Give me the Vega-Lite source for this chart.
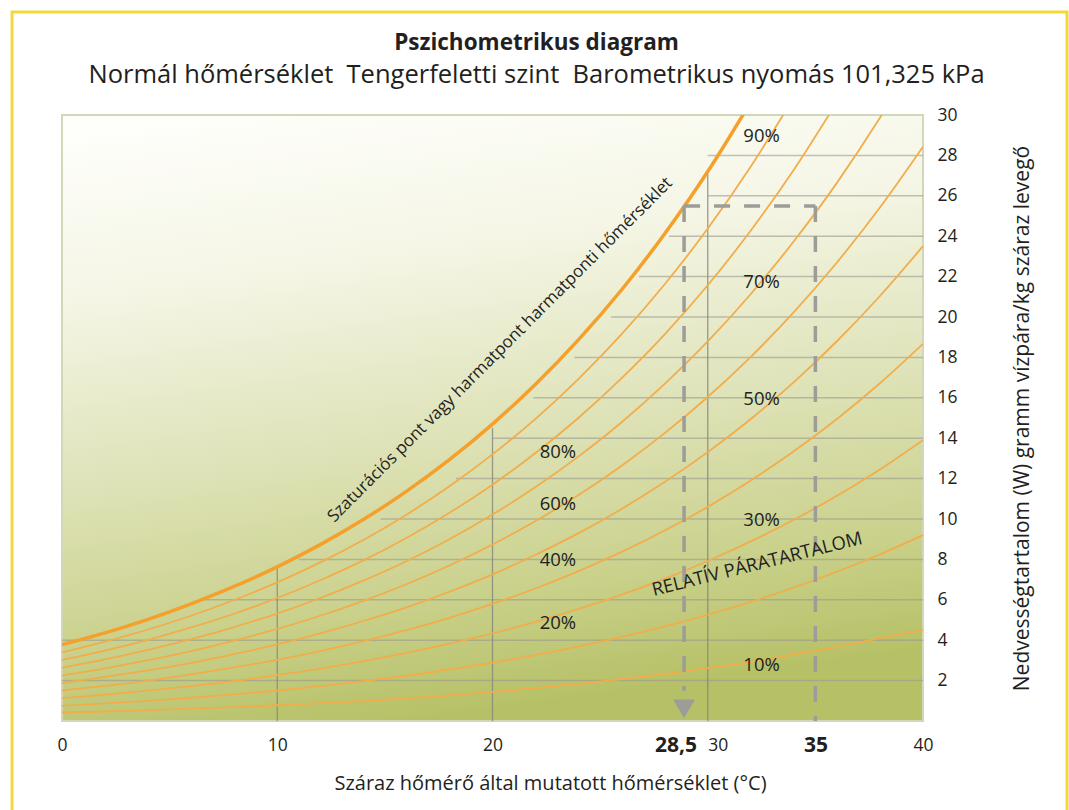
{
  "$schema": "https://vega.github.io/schema/vega-lite/v6.json",
  "autosize": "none",
  "width": 861,
  "height": 606,
  "padding": {"left": 62, "top": 115, "right": 146, "bottom": 89},
  "background": "#ffffff",
  "config": {
    "font": "Open Sans",
    "view": {"stroke": null},
    "axis": {"labelColor": "#231f20", "titleColor": "#231f20", "labelFont": "Open Sans", "titleFont": "Open Sans"}
  },
  "title": {
    "text": "Pszichometrikus diagram",
    "subtitle": "Normál hőmérséklet \u00a0Tengerfeletti szint \u00a0Barometrikus nyomás 101,325 kPa",
    "anchor": "middle",
    "dx": 44,
    "offset": -78,
    "font": "Open Sans",
    "fontSize": 22.5,
    "fontWeight": "bold",
    "color": "#231f20",
    "subtitleFont": "Open Sans",
    "subtitleFontSize": 25.5,
    "subtitleColor": "#231f20",
    "subtitlePadding": 8
  },
  "datasets": {
    "frame": [{"t": -2.32, "t2": 46.69, "w": -6, "w2": 35.1}],
    "plot": [{"t": 0, "t2": 40, "w": 0, "w2": 30}],
    "grid": [
      {"t": 0, "t2": 40, "w": 2, "w2": 2},
      {"t": 0, "t2": 40, "w": 4, "w2": 4},
      {"t": 6.6, "t2": 40, "w": 6, "w2": 6},
      {"t": 11, "t2": 40, "w": 8, "w2": 8},
      {"t": 14.8, "t2": 40, "w": 10, "w2": 10},
      {"t": 18.3, "t2": 40, "w": 12, "w2": 12},
      {"t": 20, "t2": 40, "w": 14, "w2": 14},
      {"t": 21.9, "t2": 40, "w": 16, "w2": 16},
      {"t": 23.8, "t2": 40, "w": 18, "w2": 18},
      {"t": 25.5, "t2": 40, "w": 20, "w2": 20},
      {"t": 26.8, "t2": 40, "w": 22, "w2": 22},
      {"t": 28.2, "t2": 40, "w": 24, "w2": 24},
      {"t": 30, "t2": 40, "w": 26, "w2": 26},
      {"t": 30, "t2": 40, "w": 28, "w2": 28}
    ],
    "vgrid": [
      {"t": 10, "t2": 10, "w": 0, "w2": 7.6},
      {"t": 20, "t2": 20, "w": 0, "w2": 14.5},
      {"t": 30, "t2": 30, "w": 0, "w2": 27.1}
    ],
    "dash": [
      {"t": 28.9, "t2": 35, "w": 25.5, "w2": 25.5},
      {"t": 35, "t2": 35, "w": 25.5, "w2": 0},
      {"t": 28.9, "t2": 28.9, "w": 25.5, "w2": 1.5}
    ],
    "arrow": [{"t": 28.9, "w": 0.6}],
    "sat": [
      {"t": 0, "w": 3.78}, {"t": 2, "w": 4.36}, {"t": 4, "w": 5.03}, {"t": 6, "w": 5.8}, {"t": 8, "w": 6.66},
      {"t": 10, "w": 7.63}, {"t": 12, "w": 8.73}, {"t": 14, "w": 9.97}, {"t": 16, "w": 11.37}, {"t": 18, "w": 12.94},
      {"t": 20, "w": 14.7}, {"t": 22, "w": 16.67}, {"t": 24, "w": 18.88}, {"t": 26, "w": 21.35}, {"t": 28, "w": 24.12},
      {"t": 30, "w": 27.2}, {"t": 32, "w": 30.65}
    ],
    "curves": [
      {"rh": 90, "t": 0, "w": 3.4}, {"rh": 90, "t": 2, "w": 3.93}, {"rh": 90, "t": 4, "w": 4.53}, {"rh": 90, "t": 6, "w": 5.21}, {"rh": 90, "t": 8, "w": 5.99}, {"rh": 90, "t": 10, "w": 6.86}, {"rh": 90, "t": 12, "w": 7.85}, {"rh": 90, "t": 14, "w": 8.96}, {"rh": 90, "t": 16, "w": 10.21}, {"rh": 90, "t": 18, "w": 11.62}, {"rh": 90, "t": 20, "w": 13.2}, {"rh": 90, "t": 22, "w": 14.96}, {"rh": 90, "t": 24, "w": 16.94}, {"rh": 90, "t": 26, "w": 19.15}, {"rh": 90, "t": 28, "w": 21.62}, {"rh": 90, "t": 30, "w": 24.38}, {"rh": 90, "t": 32, "w": 27.45}, {"rh": 90, "t": 34, "w": 30.87},
      {"rh": 80, "t": 0, "w": 3.02}, {"rh": 80, "t": 2, "w": 3.49}, {"rh": 80, "t": 4, "w": 4.02}, {"rh": 80, "t": 6, "w": 4.63}, {"rh": 80, "t": 8, "w": 5.31}, {"rh": 80, "t": 10, "w": 6.09}, {"rh": 80, "t": 12, "w": 6.97}, {"rh": 80, "t": 14, "w": 7.95}, {"rh": 80, "t": 16, "w": 9.06}, {"rh": 80, "t": 18, "w": 10.31}, {"rh": 80, "t": 20, "w": 11.7}, {"rh": 80, "t": 22, "w": 13.27}, {"rh": 80, "t": 24, "w": 15.01}, {"rh": 80, "t": 26, "w": 16.97}, {"rh": 80, "t": 28, "w": 19.14}, {"rh": 80, "t": 30, "w": 21.57}, {"rh": 80, "t": 32, "w": 24.28}, {"rh": 80, "t": 34, "w": 27.29}, {"rh": 80, "t": 36, "w": 30.64},
      {"rh": 70, "t": 0, "w": 2.64}, {"rh": 70, "t": 2, "w": 3.05}, {"rh": 70, "t": 4, "w": 3.52}, {"rh": 70, "t": 6, "w": 4.05}, {"rh": 70, "t": 8, "w": 4.65}, {"rh": 70, "t": 10, "w": 5.32}, {"rh": 70, "t": 12, "w": 6.09}, {"rh": 70, "t": 14, "w": 6.95}, {"rh": 70, "t": 16, "w": 7.91}, {"rh": 70, "t": 18, "w": 9.0}, {"rh": 70, "t": 20, "w": 10.22}, {"rh": 70, "t": 22, "w": 11.58}, {"rh": 70, "t": 24, "w": 13.1}, {"rh": 70, "t": 26, "w": 14.79}, {"rh": 70, "t": 28, "w": 16.69}, {"rh": 70, "t": 30, "w": 18.79}, {"rh": 70, "t": 32, "w": 21.14}, {"rh": 70, "t": 34, "w": 23.75}, {"rh": 70, "t": 36, "w": 26.64}, {"rh": 70, "t": 38, "w": 29.86}, {"rh": 70, "t": 40, "w": 33.42},
      {"rh": 60, "t": 0, "w": 2.26}, {"rh": 60, "t": 2, "w": 2.61}, {"rh": 60, "t": 4, "w": 3.01}, {"rh": 60, "t": 6, "w": 3.46}, {"rh": 60, "t": 8, "w": 3.98}, {"rh": 60, "t": 10, "w": 4.56}, {"rh": 60, "t": 12, "w": 5.21}, {"rh": 60, "t": 14, "w": 5.95}, {"rh": 60, "t": 16, "w": 6.77}, {"rh": 60, "t": 18, "w": 7.7}, {"rh": 60, "t": 20, "w": 8.74}, {"rh": 60, "t": 22, "w": 9.9}, {"rh": 60, "t": 24, "w": 11.19}, {"rh": 60, "t": 26, "w": 12.64}, {"rh": 60, "t": 28, "w": 14.25}, {"rh": 60, "t": 30, "w": 16.04}, {"rh": 60, "t": 32, "w": 18.03}, {"rh": 60, "t": 34, "w": 20.24}, {"rh": 60, "t": 36, "w": 22.7}, {"rh": 60, "t": 38, "w": 25.42}, {"rh": 60, "t": 40, "w": 28.43},
      {"rh": 50, "t": 0, "w": 1.88}, {"rh": 50, "t": 2, "w": 2.18}, {"rh": 50, "t": 4, "w": 2.51}, {"rh": 50, "t": 6, "w": 2.88}, {"rh": 50, "t": 8, "w": 3.31}, {"rh": 50, "t": 10, "w": 3.79}, {"rh": 50, "t": 12, "w": 4.34}, {"rh": 50, "t": 14, "w": 4.95}, {"rh": 50, "t": 16, "w": 5.63}, {"rh": 50, "t": 18, "w": 6.4}, {"rh": 50, "t": 20, "w": 7.26}, {"rh": 50, "t": 22, "w": 8.23}, {"rh": 50, "t": 24, "w": 9.3}, {"rh": 50, "t": 26, "w": 10.5}, {"rh": 50, "t": 28, "w": 11.83}, {"rh": 50, "t": 30, "w": 13.31}, {"rh": 50, "t": 32, "w": 14.95}, {"rh": 50, "t": 34, "w": 16.78}, {"rh": 50, "t": 36, "w": 18.8}, {"rh": 50, "t": 38, "w": 21.04}, {"rh": 50, "t": 40, "w": 23.51},
      {"rh": 40, "t": 0, "w": 1.51}, {"rh": 40, "t": 2, "w": 1.74}, {"rh": 40, "t": 4, "w": 2.0}, {"rh": 40, "t": 6, "w": 2.31}, {"rh": 40, "t": 8, "w": 2.65}, {"rh": 40, "t": 10, "w": 3.03}, {"rh": 40, "t": 12, "w": 3.46}, {"rh": 40, "t": 14, "w": 3.95}, {"rh": 40, "t": 16, "w": 4.5}, {"rh": 40, "t": 18, "w": 5.11}, {"rh": 40, "t": 20, "w": 5.8}, {"rh": 40, "t": 22, "w": 6.56}, {"rh": 40, "t": 24, "w": 7.42}, {"rh": 40, "t": 26, "w": 8.37}, {"rh": 40, "t": 28, "w": 9.43}, {"rh": 40, "t": 30, "w": 10.6}, {"rh": 40, "t": 32, "w": 11.91}, {"rh": 40, "t": 34, "w": 13.35}, {"rh": 40, "t": 36, "w": 14.95}, {"rh": 40, "t": 38, "w": 16.72}, {"rh": 40, "t": 40, "w": 18.67},
      {"rh": 30, "t": 0, "w": 1.13}, {"rh": 30, "t": 2, "w": 1.3}, {"rh": 30, "t": 4, "w": 1.5}, {"rh": 30, "t": 6, "w": 1.73}, {"rh": 30, "t": 8, "w": 1.98}, {"rh": 30, "t": 10, "w": 2.27}, {"rh": 30, "t": 12, "w": 2.59}, {"rh": 30, "t": 14, "w": 2.96}, {"rh": 30, "t": 16, "w": 3.37}, {"rh": 30, "t": 18, "w": 3.83}, {"rh": 30, "t": 20, "w": 4.34}, {"rh": 30, "t": 22, "w": 4.91}, {"rh": 30, "t": 24, "w": 5.55}, {"rh": 30, "t": 26, "w": 6.26}, {"rh": 30, "t": 28, "w": 7.04}, {"rh": 30, "t": 30, "w": 7.92}, {"rh": 30, "t": 32, "w": 8.89}, {"rh": 30, "t": 34, "w": 9.96}, {"rh": 30, "t": 36, "w": 11.15}, {"rh": 30, "t": 38, "w": 12.45}, {"rh": 30, "t": 40, "w": 13.9},
      {"rh": 20, "t": 0, "w": 0.75}, {"rh": 20, "t": 2, "w": 0.87}, {"rh": 20, "t": 4, "w": 1.0}, {"rh": 20, "t": 6, "w": 1.15}, {"rh": 20, "t": 8, "w": 1.32}, {"rh": 20, "t": 10, "w": 1.51}, {"rh": 20, "t": 12, "w": 1.73}, {"rh": 20, "t": 14, "w": 1.97}, {"rh": 20, "t": 16, "w": 2.24}, {"rh": 20, "t": 18, "w": 2.55}, {"rh": 20, "t": 20, "w": 2.89}, {"rh": 20, "t": 22, "w": 3.26}, {"rh": 20, "t": 24, "w": 3.69}, {"rh": 20, "t": 26, "w": 4.16}, {"rh": 20, "t": 28, "w": 4.68}, {"rh": 20, "t": 30, "w": 5.26}, {"rh": 20, "t": 32, "w": 5.9}, {"rh": 20, "t": 34, "w": 6.61}, {"rh": 20, "t": 36, "w": 7.39}, {"rh": 20, "t": 38, "w": 8.25}, {"rh": 20, "t": 40, "w": 9.2},
      {"rh": 10, "t": 0, "w": 0.42}, {"rh": 10, "t": 2, "w": 0.47}, {"rh": 10, "t": 4, "w": 0.54}, {"rh": 10, "t": 6, "w": 0.61}, {"rh": 10, "t": 8, "w": 0.69}, {"rh": 10, "t": 10, "w": 0.78}, {"rh": 10, "t": 12, "w": 0.88}, {"rh": 10, "t": 14, "w": 0.99}, {"rh": 10, "t": 16, "w": 1.12}, {"rh": 10, "t": 18, "w": 1.27}, {"rh": 10, "t": 20, "w": 1.44}, {"rh": 10, "t": 22, "w": 1.63}, {"rh": 10, "t": 24, "w": 1.84}, {"rh": 10, "t": 26, "w": 2.07}, {"rh": 10, "t": 28, "w": 2.33}, {"rh": 10, "t": 30, "w": 2.62}, {"rh": 10, "t": 32, "w": 2.93}, {"rh": 10, "t": 34, "w": 3.29}, {"rh": 10, "t": 36, "w": 3.67}, {"rh": 10, "t": 38, "w": 4.1}, {"rh": 10, "t": 40, "w": 4.5}
    ],
    "pct": [
      {"t": 32.5, "w": 28.96, "label": "90%"},
      {"t": 32.5, "w": 21.73, "label": "70%"},
      {"t": 32.5, "w": 15.94, "label": "50%"},
      {"t": 32.5, "w": 9.95, "label": "30%"},
      {"t": 32.5, "w": 2.77, "label": "10%"},
      {"t": 23.04, "w": 13.32, "label": "80%"},
      {"t": 23.04, "w": 10.74, "label": "60%"},
      {"t": 23.04, "w": 7.97, "label": "40%"},
      {"t": 23.04, "w": 4.85, "label": "20%"}
    ],
    "satlabel": [{"t": 20.35, "w": 18.37, "label": "Szaturációs pont vagy harmatpont harmatponti hőmérséklet"}],
    "rhlabel": [{"t": 32.29, "w": 7.77, "label": "RELATÍV PÁRATARTALOM"}]
  },
  "encoding": {
    "x": {
      "field": "t",
      "type": "quantitative",
      "scale": {"domain": [0, 40], "nice": false, "zero": false},
      "axis": {
        "values": [0, 10, 20, 28.5, 30, 35, 40],
        "labelExpr": "datum.value == 28.5 ? '28,5' : datum.label",
        "grid": false,
        "ticks": false,
        "domain": false,
        "labelOverlap": false,
        "labelBaseline": "middle",
        "labelPadding": 24,
        "labelFontSize": {"condition": {"test": "datum.value == 28.5 || datum.value == 35", "value": 21}, "value": 17.5},
        "labelFontWeight": {"condition": {"test": "datum.value == 28.5 || datum.value == 35", "value": "bold"}, "value": "normal"},
        "labelAlign": {"condition": {"test": "datum.value == 30", "value": "left"}, "value": "center"},
        "title": "Száraz hőmérő által mutatott hőmérséklet (°C)",
        "titleFontSize": 20,
        "titleFontWeight": "normal",
        "titlePadding": 18,
        "titleX": 488,
        "titleAlign": "center"
      }
    },
    "y": {
      "field": "w",
      "type": "quantitative",
      "scale": {"domain": [0, 30], "nice": false, "zero": false},
      "axis": {
        "orient": "right",
        "values": [2, 4, 6, 8, 10, 12, 14, 16, 18, 20, 22, 24, 26, 28, 30],
        "grid": false,
        "ticks": false,
        "domain": false,
        "labelFontSize": 17.5,
        "labelPadding": 14,
        "title": "Nedvességtartalom (W) gramm vízpára/kg száraz levegő",
        "titleAngle": 270,
        "titleFontSize": 21,
        "titleFontWeight": "normal",
        "titlePadding": 75
      }
    }
  },
  "layer": [
    {
      "data": {"name": "frame"},
      "mark": {"type": "rect", "fill": null, "stroke": "#f2d93a", "strokeWidth": 3, "clip": false},
      "encoding": {"x2": {"field": "t2"}, "y2": {"field": "w2"}}
    },
    {
      "data": {"name": "plot"},
      "mark": {
        "type": "rect",
        "stroke": "#d2d7b8",
        "strokeWidth": 2,
        "fill": {
          "gradient": "linear",
          "x1": 0.2, "y1": 0, "x2": 0.4, "y2": 1,
          "stops": [
            {"offset": 0, "color": "#fefefa"},
            {"offset": 0.25, "color": "#f5f6e6"},
            {"offset": 0.55, "color": "#dfe3b9"},
            {"offset": 0.8, "color": "#cbd28e"},
            {"offset": 1, "color": "#b6c167"}
          ]
        }
      },
      "encoding": {"x2": {"field": "t2"}, "y2": {"field": "w2"}}
    },
    {
      "data": {"name": "grid"},
      "mark": {"type": "rule", "color": "#9a9a90", "strokeWidth": 1.5, "opacity": 0.6},
      "encoding": {"x2": {"field": "t2"}, "y2": {"field": "w2"}}
    },
    {
      "data": {"name": "vgrid"},
      "mark": {"type": "rule", "color": "#85857c", "strokeWidth": 1.3, "opacity": 0.8},
      "encoding": {"x2": {"field": "t2"}, "y2": {"field": "w2"}}
    },
    {
      "data": {"name": "curves"},
      "mark": {"type": "line", "color": "#f2ad4a", "strokeWidth": 1.8, "clip": true, "interpolate": "monotone"},
      "encoding": {"detail": {"field": "rh", "type": "nominal"}}
    },
    {
      "data": {"name": "sat"},
      "mark": {"type": "line", "color": "#f4a02a", "strokeWidth": 3.5, "clip": true, "interpolate": "monotone"},
      "encoding": {}
    },
    {
      "data": {"name": "dash"},
      "mark": {"type": "rule", "color": "#9c9c98", "strokeWidth": 3.5, "strokeDash": [16, 14]},
      "encoding": {"x2": {"field": "t2"}, "y2": {"field": "w2"}}
    },
    {
      "data": {"name": "arrow"},
      "mark": {"type": "point", "shape": "triangle-down", "filled": true, "color": "#9c9c98", "size": 480, "opacity": 1},
      "encoding": {}
    },
    {
      "data": {"name": "pct"},
      "mark": {"type": "text", "fontSize": 18.5, "color": "#231f20", "font": "Open Sans"},
      "encoding": {"text": {"field": "label"}}
    },
    {
      "data": {"name": "satlabel"},
      "mark": {"type": "text", "fontSize": 17, "color": "#231f20", "font": "Open Sans", "angle": 315},
      "encoding": {"text": {"field": "label"}}
    },
    {
      "data": {"name": "rhlabel"},
      "mark": {"type": "text", "fontSize": 18.5, "color": "#231f20", "font": "Open Sans", "angle": 346},
      "encoding": {"text": {"field": "label"}}
    }
  ]
}
